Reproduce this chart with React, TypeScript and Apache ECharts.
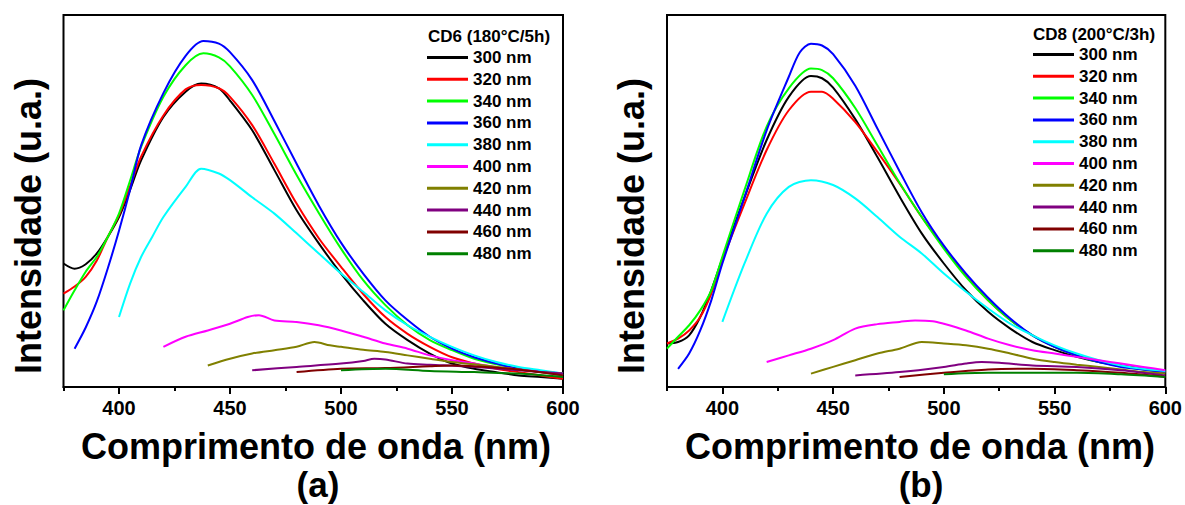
import React, { useEffect, useRef } from 'react';
import * as echarts from 'echarts';

const FONT = '"Liberation Sans", Arial, sans-serif';

const seriesNames = ['300 nm', '320 nm', '340 nm', '360 nm', '380 nm', '400 nm', '420 nm', '440 nm', '460 nm', '480 nm'];
const seriesColors = ['#000000', '#ff0000', '#00ff00', '#0000ff', '#00ffff', '#ff00ff', '#808000', '#800080', '#800000', '#008000'];

const majorTicks = [400, 450, 500, 550, 600];
const minorTicks = [375, 425, 475, 525, 575];

// ---------- Panel (a): CD6 (180°C/5h) ----------
const cd6_300_x = [375, 380, 385, 390, 395, 400, 405, 410, 420, 430, 437, 445, 450, 460, 470, 480, 490, 500, 510, 520, 530, 540, 550, 560, 570, 580, 590, 600];
const cd6_300_y = [33.2, 31.8, 33, 35.9, 40.4, 45.7, 53, 61, 72.6, 79.4, 81.6, 80.3, 77, 69, 58.3, 47.5, 38.6, 30.5, 23.3, 17, 12.6, 9, 6.3, 4.9, 4, 3.1, 2.7, 2.2];
const cd6_320_x = cd6_300_x;
const cd6_320_y = [25.1, 27, 29.6, 34, 40.4, 46.2, 54, 62, 73, 80, 81.2, 80.3, 78, 70.4, 60, 49.3, 40, 32.3, 25, 18.8, 14.3, 10.8, 8, 6.3, 4.9, 4, 3.1, 2.2];
const cd6_340_x = [375, 380, 385, 390, 395, 400, 405, 410, 420, 430, 438, 445, 450, 460, 470, 480, 490, 500, 510, 520, 530, 540, 550, 560, 570, 580, 590, 600];
const cd6_340_y = [20.6, 26, 31, 35, 40.4, 46.6, 55.5, 64.6, 78, 86.5, 89.7, 88.6, 86.2, 78.5, 68, 57, 46.8, 37.2, 28.7, 22, 16.6, 12.6, 9.9, 7.6, 6.1, 4.9, 4, 3.1];
const cd6_360_x = [380, 385, 390, 395, 400, 405, 410, 420, 430, 438, 445, 450, 460, 470, 480, 490, 500, 510, 520, 530, 540, 550, 560, 570, 580, 590, 600];
const cd6_360_y = [10.3, 16, 23, 32, 42, 53, 65, 79, 89, 93, 92.3, 90, 82.5, 71.5, 60, 48.8, 38.8, 30.5, 23.3, 18, 13.5, 10.3, 8, 6.3, 4.9, 4.2, 3.6];
const cd6_380_x = [400, 405, 410, 415, 420, 430, 437, 445, 450, 460, 470, 480, 490, 500, 510, 520, 530, 540, 550, 560, 570, 580, 590, 600];
const cd6_380_y = [18.8, 27.8, 35, 40.4, 45.7, 53.8, 58.7, 57.4, 55.6, 51, 46.6, 41.3, 35.9, 30.5, 25.6, 20.6, 16.6, 13.5, 10.8, 8.5, 6.7, 5.4, 4.5, 3.6];
const cd6_400_x = [420, 430, 440, 450, 458, 463, 470, 480, 490, 500, 510, 520, 530, 540, 550, 560, 570, 580, 590, 600];
const cd6_400_y = [10.8, 13.5, 15.2, 17, 18.8, 19.3, 17.9, 17.5, 16.6, 15.2, 13.5, 11.7, 10.3, 8.5, 7.2, 6.3, 5.4, 4.7, 4, 3.1];
const cd6_420_x = [440, 450, 460, 470, 480, 488, 495, 500, 510, 520, 530, 540, 550, 560, 570, 580, 590, 600];
const cd6_420_y = [5.8, 7.6, 9, 9.9, 10.8, 12.1, 11.2, 10.8, 10, 9.4, 8.5, 7.6, 6.7, 6.1, 5.4, 4.7, 4, 3.6];
const cd6_440_x = [460, 480, 500, 510, 515, 520, 530, 540, 560, 580, 600];
const cd6_440_y = [4.5, 5.4, 6.3, 7, 7.6, 7.4, 6.3, 6, 5.4, 4.5, 3.6];
const cd6_460_x = [480, 500, 520, 540, 550, 560, 580, 600];
const cd6_460_y = [4, 4.9, 5.1, 5.6, 5.8, 5.6, 4.7, 3.1];
const cd6_480_x = [500, 520, 540, 560, 580, 600];
const cd6_480_y = [4.5, 4.9, 4.3, 4, 3.6, 2.7];

// ---------- Panel (b): CD8 (200°C/3h) ----------
const cd8_300_x = [375, 380, 385, 390, 395, 400, 410, 420, 430, 440, 445, 450, 460, 470, 480, 490, 500, 510, 520, 530, 540, 550, 560, 570, 580, 590, 600];
const cd8_300_y = [11.7, 12.1, 13.9, 18.8, 26, 34.5, 51, 66.4, 78, 83.6, 83, 80.5, 72, 61.8, 51.2, 41.3, 33.2, 26, 20.2, 15.7, 12.1, 9.9, 8.1, 6.7, 5.8, 4.9, 4.3];
const cd8_320_x = cd8_300_x;
const cd8_320_y = [11.7, 13, 15.2, 18.8, 25.1, 34, 49.3, 63.7, 74.4, 79.4, 79.4, 77.5, 71.2, 63.2, 54.7, 45.7, 37.7, 30, 23.3, 18, 13.9, 10.8, 8.5, 6.9, 5.7, 4.8, 4];
const cd8_340_x = cd8_300_x;
const cd8_340_y = [10.3, 13.5, 16.6, 20.6, 26, 35, 53, 70, 80.3, 85.6, 85.2, 83, 75, 65, 54.9, 45.7, 37.2, 29.6, 23.3, 18, 13.9, 10.8, 8.5, 6.7, 5.6, 4.7, 4];
const cd8_360_x = [380, 385, 390, 395, 400, 410, 420, 430, 435, 440, 445, 450, 460, 470, 480, 490, 500, 510, 520, 530, 540, 550, 560, 570, 580, 590, 600];
const cd8_360_y = [4.9, 9, 15.2, 23.3, 33.2, 51, 69, 83.4, 90, 92.3, 91.8, 89.5, 81, 69.5, 58, 47, 38, 30.5, 24, 18.4, 13.9, 10.8, 8.5, 6.7, 5.4, 4.7, 4];
const cd8_380_x = [400, 410, 420, 430, 440, 450, 460, 470, 480, 490, 500, 510, 520, 530, 540, 550, 560, 570, 580, 590, 600];
const cd8_380_y = [17.5, 33.2, 46.6, 53.8, 55.6, 54.3, 50.7, 45.7, 40.4, 35.9, 30.5, 25.6, 21.1, 17, 13.9, 11.2, 9, 7.2, 5.8, 4.9, 4.3];
const cd8_400_x = [420, 430, 440, 450, 460, 470, 480, 487, 495, 500, 510, 520, 530, 540, 550, 560, 570, 580, 590, 600];
const cd8_400_y = [6.7, 8.5, 10.3, 12.6, 15.7, 16.9, 17.5, 17.9, 17.7, 17, 15.2, 13, 11.2, 9.9, 9, 8.1, 7.2, 6.3, 5.4, 4.5];
const cd8_420_x = [440, 450, 460, 470, 480, 490, 500, 510, 520, 530, 540, 550, 560, 570, 580, 590, 600];
const cd8_420_y = [3.6, 5.4, 7.2, 9, 10.3, 12.1, 11.7, 11.2, 10.3, 9, 7.6, 6.7, 6, 5.4, 4.7, 4, 3.6];
const cd8_440_x = [460, 480, 500, 510, 517, 525, 540, 560, 580, 600];
const cd8_440_y = [3.1, 4, 5.4, 6.3, 6.7, 6.5, 5.8, 5.4, 4.5, 3.1];
const cd8_460_x = [480, 500, 520, 540, 560, 580, 600];
const cd8_460_y = [2.7, 3.8, 4.7, 4.9, 4.5, 3.8, 2.7];
const cd8_480_x = [500, 520, 540, 560, 580, 600];
const cd8_480_y = [3.4, 3.8, 3.8, 3.8, 3.4, 2.7];

const cd6 = [
  [cd6_300_x, cd6_300_y], [cd6_320_x, cd6_320_y], [cd6_340_x, cd6_340_y], [cd6_360_x, cd6_360_y], [cd6_380_x, cd6_380_y],
  [cd6_400_x, cd6_400_y], [cd6_420_x, cd6_420_y], [cd6_440_x, cd6_440_y], [cd6_460_x, cd6_460_y], [cd6_480_x, cd6_480_y],
];
const cd8 = [
  [cd8_300_x, cd8_300_y], [cd8_320_x, cd8_320_y], [cd8_340_x, cd8_340_y], [cd8_360_x, cd8_360_y], [cd8_380_x, cd8_380_y],
  [cd8_400_x, cd8_400_y], [cd8_420_x, cd8_420_y], [cd8_440_x, cd8_440_y], [cd8_460_x, cd8_460_y], [cd8_480_x, cd8_480_y],
];

const zip = (xs: number[], ys: number[]) => xs.map((x, i) => [x, ys[i]]);

function makeSeries(panel: number[][][], axisIndex: number) {
  return panel.map(([xs, ys], i) => ({
    name: seriesNames[i],
    type: 'line',
    xAxisIndex: axisIndex,
    yAxisIndex: axisIndex / 2,
    data: zip(xs, ys),
    symbol: 'none',
    showSymbol: false,
    smooth: 0.3,
    lineStyle: { color: seriesColors[i], width: 2 },
    itemStyle: { color: seriesColors[i] },
  }));
}

function xAxes(gridIndex: number) {
  return [
    {
      type: 'value', gridIndex, position: 'bottom', min: 375, max: 600, interval: 25,
      axisLine: { show: true, onZero: false, lineStyle: { color: '#000', width: 2 } },
      axisTick: { show: true, inside: false, length: 7, customValues: majorTicks, lineStyle: { color: '#000', width: 2 } },
      axisLabel: { show: true, customValues: majorTicks, margin: 11, fontSize: 20, fontWeight: 'bold', fontFamily: FONT, color: '#000' },
      splitLine: { show: false },
    },
    {
      type: 'value', gridIndex, position: 'bottom', offset: 0, min: 375, max: 600, interval: 25,
      axisLine: { show: false },
      axisTick: { show: true, inside: false, length: 4, customValues: minorTicks, lineStyle: { color: '#000', width: 2 } },
      axisLabel: { show: false },
      splitLine: { show: false },
    },
  ];
}

function yAxis(gridIndex: number) {
  return { type: 'value', gridIndex, min: 0, max: 100, show: false, splitLine: { show: false } };
}

const legendText = { fontSize: 17, fontWeight: 'bold', fontFamily: FONT, color: '#000', lineHeight: 17 };

function legend(left: number, top: number) {
  return {
    data: seriesNames.map((name) => ({ name, textStyle: legendText })),
    orient: 'vertical', left, top, padding: 0,
    icon: 'rect', itemWidth: 41, itemHeight: 3, itemGap: 4.8, selectedMode: false,
    textStyle: legendText,
  };
}

const txt = (x: number, y: number, text: string, size: number, extra: any = {}) => ({
  type: 'text', x, y, ...extra,
  style: { text, fontSize: size, fontWeight: 'bold', fontFamily: FONT, fill: '#000', textAlign: extra.align || 'center', textVerticalAlign: 'middle' },
});

export default function App() {
  const ref = useRef<HTMLDivElement>(null);
  useEffect(() => {
    if (!ref.current) return;
    const chart = echarts.init(ref.current, undefined, { renderer: 'svg' });
    chart.setOption({
      animation: false,
      backgroundColor: '#fff',
      grid: [
        { left: 63.5, right: 622, top: 15, bottom: 118, show: true, borderColor: '#000', borderWidth: 2, backgroundColor: 'transparent' },
        { left: 667, right: 18, top: 15, bottom: 118, show: true, borderColor: '#000', borderWidth: 2, backgroundColor: 'transparent' },
      ],
      xAxis: [...xAxes(0), ...xAxes(1)],
      yAxis: [yAxis(0), yAxis(1)],
      legend: [legend(427, 49), legend(1033, 46)],
      series: [...makeSeries(cd6, 0), ...makeSeries(cd8, 2)],
      graphic: [
        txt(428, 36, 'CD6 (180°C/5h)', 17, { align: 'left' }),
        txt(1033, 34, 'CD8 (200°C/3h)', 17, { align: 'left' }),
        txt(28, 226, 'Intensidade (u.a.)', 36, { rotation: Math.PI / 2 }),
        txt(631, 226, 'Intensidade (u.a.)', 36, { rotation: Math.PI / 2 }),
        txt(316, 446, 'Comprimento de onda (nm)', 36),
        txt(920, 446, 'Comprimento de onda (nm)', 36),
        txt(318, 484, '(a)', 35),
        txt(921, 484, '(b)', 35),
      ],
    });
    return () => chart.dispose();
  }, []);
  return <div ref={ref} style={{ position: 'fixed', left: 0, top: 0, width: 1185, height: 505, background: '#fff' }} />;
}
